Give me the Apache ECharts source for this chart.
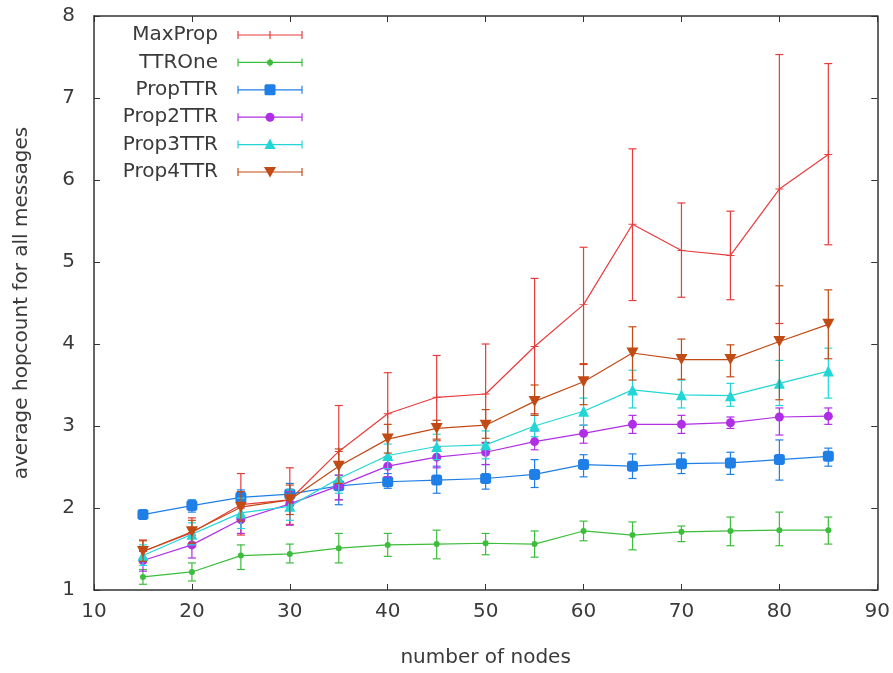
<!DOCTYPE html>
<html><head><meta charset="utf-8">
<script src="https://cdn.jsdelivr.net/npm/echarts@6/dist/echarts.min.js"></script>
<style>html,body{margin:0;padding:0;background:#fff}#c{width:893px;height:673px}</style>
</head><body><div id="c"></div>
<script>
// ---- data ----
const nodes = [15, 20, 25, 30, 35, 40, 45, 50, 55, 60, 65, 70, 75, 80, 85];
const seriesNames = ['MaxProp', 'TTROne', 'PropTTR', 'Prop2TTR', 'Prop3TTR', 'Prop4TTR'];
const xTickLabels = [10, 20, 30, 40, 50, 60, 70, 80, 90];
const yTickLabels = [1, 2, 3, 4, 5, 6, 7, 8];

const maxProp     = [1.47, 1.70, 2.04, 2.10, 2.69, 3.15, 3.35, 3.39, 3.97, 4.48, 5.46, 5.14, 5.08, 5.89, 6.31];
const maxPropLow  = [1.35, 1.55, 1.67, 1.80, 2.10, 2.62, 2.82, 2.80, 3.15, 3.75, 4.53, 4.57, 4.54, 4.25, 5.21];
const maxPropHigh = [1.61, 1.88, 2.42, 2.49, 3.25, 3.65, 3.86, 4.00, 4.80, 5.18, 6.38, 5.72, 5.62, 7.53, 7.42];

const ttrOne     = [1.16, 1.22, 1.42, 1.44, 1.51, 1.55, 1.56, 1.57, 1.56, 1.72, 1.67, 1.71, 1.72, 1.73, 1.73];
const ttrOneLow  = [1.07, 1.11, 1.25, 1.33, 1.33, 1.41, 1.38, 1.43, 1.40, 1.60, 1.49, 1.59, 1.54, 1.54, 1.56];
const ttrOneHigh = [1.25, 1.33, 1.55, 1.56, 1.69, 1.69, 1.73, 1.69, 1.72, 1.84, 1.83, 1.78, 1.89, 1.95, 1.89];

const propTTR     = [1.92, 2.03, 2.13, 2.17, 2.27, 2.32, 2.34, 2.36, 2.41, 2.53, 2.51, 2.54, 2.55, 2.59, 2.63];
const propTTRLow  = [1.87, 1.95, 2.05, 2.08, 2.04, 2.24, 2.18, 2.23, 2.25, 2.38, 2.36, 2.42, 2.41, 2.34, 2.51];
const propTTRHigh = [1.97, 2.10, 2.22, 2.30, 2.40, 2.42, 2.51, 2.53, 2.59, 2.65, 2.66, 2.67, 2.68, 2.83, 2.73];

const prop2TTR     = [1.36, 1.55, 1.86, 2.05, 2.27, 2.51, 2.62, 2.68, 2.81, 2.91, 3.02, 3.02, 3.04, 3.11, 3.12];
const prop2TTRLow  = [1.23, 1.39, 1.69, 1.79, 2.10, 2.38, 2.49, 2.53, 2.71, 2.79, 2.91, 2.91, 2.97, 2.89, 3.02];
const prop2TTRHigh = [1.48, 1.67, 2.00, 2.20, 2.40, 2.62, 2.74, 2.79, 2.94, 3.01, 3.13, 3.13, 3.11, 3.22, 3.22];

const prop3TTR     = [1.42, 1.68, 1.94, 2.02, 2.36, 2.64, 2.75, 2.77, 3.00, 3.18, 3.44, 3.38, 3.37, 3.52, 3.67];
const prop3TTRLow  = [1.30, 1.55, 1.75, 1.85, 2.18, 2.48, 2.59, 2.60, 2.87, 3.01, 3.22, 3.22, 3.24, 3.25, 3.34];
const prop3TTRHigh = [1.55, 1.82, 2.12, 2.22, 2.52, 2.78, 2.90, 2.94, 3.13, 3.34, 3.68, 3.56, 3.52, 3.80, 3.95];

const prop4TTR     = [1.47, 1.71, 2.01, 2.10, 2.51, 2.84, 2.97, 3.01, 3.30, 3.54, 3.89, 3.81, 3.81, 4.03, 4.24];
const prop4TTRLow  = [1.35, 1.57, 1.84, 1.92, 2.30, 2.67, 2.84, 2.85, 3.13, 3.26, 3.56, 3.57, 3.60, 3.32, 3.82];
const prop4TTRHigh = [1.60, 1.85, 2.20, 2.28, 2.72, 3.02, 3.07, 3.20, 3.50, 3.76, 4.21, 4.06, 3.99, 4.71, 4.66];

// ---- styling ----
const FONT = 'DejaVu Sans';
const FS = 20;
const TXT = '#3a3a3a';
const AX = '#333';
const colors = ['#e63c3c', '#3cbd3c', '#1f7fe6', '#b02ee6', '#22d6d6', '#c24a14'];
const means = [maxProp, ttrOne, propTTR, prop2TTR, prop3TTR, prop4TTR];
const lows = [maxPropLow, ttrOneLow, propTTRLow, prop2TTRLow, prop3TTRLow, prop4TTRLow];
const highs = [maxPropHigh, ttrOneHigh, propTTRHigh, prop2TTRHigh, prop3TTRHigh, prop4TTRHigh];
const symbols = [
  'path://M4.4,0H5.6V4.4H10V5.6H5.6V10H4.4V5.6H0V4.4H4.4Z',
  'circle',
  'roundRect',
  'circle',
  'triangle',
  'path://M0,0L10,0L5,9Z'
];
const symbolSizes = [8, 6, 11, 9, 11, [12, 11]];

const series = [];
seriesNames.forEach((name, k) => {
  const c = colors[k];
  series.push({
    name: name + ' err',
    type: 'custom',
    silent: true,
    z: 2 + k * 2,
    data: nodes.map((x, i) => [x, lows[k][i], highs[k][i]]),
    encode: { x: 0, y: [1, 2] },
    renderItem: (params, api) => {
      const x = api.value(0);
      const a = api.coord([x, api.value(1)]);
      const b = api.coord([x, api.value(2)]);
      const w = 4;
      const st = { stroke: c, lineWidth: 1.2 };
      return {
        type: 'group',
        children: [
          { type: 'line', shape: { x1: a[0], y1: a[1], x2: b[0], y2: b[1] }, style: st },
          { type: 'line', shape: { x1: a[0] - w, y1: a[1], x2: a[0] + w, y2: a[1] }, style: st },
          { type: 'line', shape: { x1: b[0] - w, y1: b[1], x2: b[0] + w, y2: b[1] }, style: st }
        ]
      };
    }
  });
  series.push({
    name: name,
    type: 'line',
    z: 3 + k * 2,
    data: nodes.map((x, i) => [x, means[k][i]]),
    symbol: symbols[k],
    symbolSize: symbolSizes[k],
    showSymbol: true,
    itemStyle: { color: c },
    lineStyle: { color: c, width: 1.2 },
    emphasis: { disabled: true },
    animation: false
  });
});

// ---- legend drawn as graphic (text right-aligned, sample with error caps) ----
const graphic = [];
seriesNames.forEach((name, k) => {
  const y = 35 + k * 27.4;
  const c = colors[k];
  const st = { stroke: c, lineWidth: 1.2 };
  graphic.push({ type: 'text', x: 218, y: y, style: { text: name, font: FS + 'px "' + FONT + '"', fill: TXT, align: 'right', verticalAlign: 'middle' } });
  graphic.push({ type: 'line', shape: { x1: 238, y1: y, x2: 302, y2: y }, style: st });
  graphic.push({ type: 'line', shape: { x1: 238, y1: y - 4, x2: 238, y2: y + 4 }, style: st });
  graphic.push({ type: 'line', shape: { x1: 302, y1: y - 4, x2: 302, y2: y + 4 }, style: st });
  graphic.push({ type: 'line', shape: { x1: 270, y1: y - 4, x2: 270, y2: y + 4 }, style: st });
  const mx = 270;
  if (k === 1) graphic.push({ type: 'circle', shape: { cx: mx, cy: y, r: 3 }, style: { fill: c } });
  if (k === 2) graphic.push({ type: 'rect', shape: { x: mx - 5.5, y: y - 5.5, width: 11, height: 11, r: 1.5 }, style: { fill: c } });
  if (k === 3) graphic.push({ type: 'circle', shape: { cx: mx, cy: y, r: 4.5 }, style: { fill: c } });
  if (k === 4) graphic.push({ type: 'polygon', shape: { points: [[mx, y - 6], [mx + 5.5, y + 4.5], [mx - 5.5, y + 4.5]] }, style: { fill: c } });
  if (k === 5) graphic.push({ type: 'polygon', shape: { points: [[mx - 6, y - 5], [mx + 6, y - 5], [mx, y + 5.5]] }, style: { fill: c } });
});

const labelStyle = { fontFamily: FONT, fontSize: FS, color: TXT };
const lineSt = { show: true, lineStyle: { color: AX, width: 1.5 } };
const tickSt = { show: true, inside: true, length: 6, lineStyle: { color: AX, width: 1 } };

const option = {
  backgroundColor: '#fff',
  animation: false,
  grid: { left: 94, right: 13, top: 16, bottom: 81, containLabel: false },
  xAxis: [
    {
      type: 'value', min: xTickLabels[0], max: xTickLabels[xTickLabels.length - 1], interval: 10, position: 'bottom',
      name: 'number of nodes', nameLocation: 'middle', nameGap: 58, nameTextStyle: labelStyle,
      axisLine: lineSt, axisTick: tickSt, splitLine: { show: false },
      axisLabel: Object.assign({ margin: 12, showMinLabel: true, showMaxLabel: true }, labelStyle)
    },
    {
      type: 'value', min: xTickLabels[0], max: xTickLabels[xTickLabels.length - 1], interval: 10, position: 'top',
      axisLine: lineSt, axisTick: tickSt, splitLine: { show: false }, axisLabel: { show: false }
    }
  ],
  yAxis: [
    {
      type: 'value', min: yTickLabels[0], max: yTickLabels[yTickLabels.length - 1], interval: 1, position: 'left',
      name: 'average hopcount for all messages', nameLocation: 'middle', nameGap: 62, nameTextStyle: labelStyle,
      axisLine: lineSt, axisTick: tickSt, splitLine: { show: false },
      axisLabel: Object.assign({ margin: 19, showMinLabel: true, showMaxLabel: true }, labelStyle)
    },
    {
      type: 'value', min: yTickLabels[0], max: yTickLabels[yTickLabels.length - 1], interval: 1, position: 'right',
      axisLine: lineSt, axisTick: tickSt, splitLine: { show: false }, axisLabel: { show: false }
    }
  ],
  graphic: graphic,
  series: series
};

const chart = echarts.init(document.getElementById('c'), null, { renderer: 'canvas' });
chart.setOption(option);
</script>
</body></html>
